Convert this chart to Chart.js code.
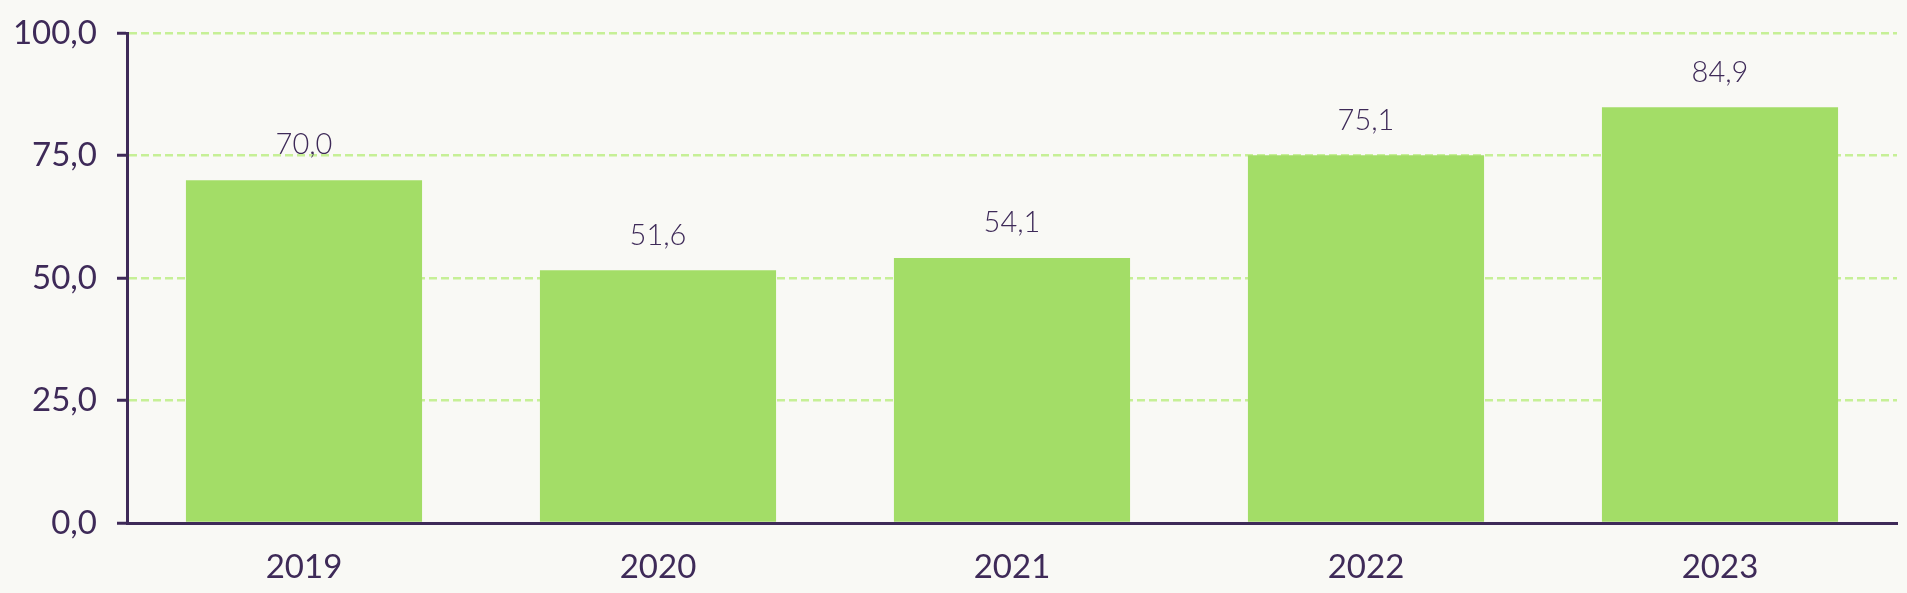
<!DOCTYPE html>
<html>
<head>
<meta charset="utf-8">
<script src="https://cdn.jsdelivr.net/npm/chart.js@4/dist/chart.umd.min.js"></script>
<style>
  html, body { margin: 0; padding: 0; background: #f9f9f5; }
  #wrap { width: 1907px; height: 593px; }
</style>
</head>
<body>
<div id="wrap"><canvas id="chart"></canvas></div>
<script>
const years = ['2019', '2020', '2021', '2022', '2023'];
const values = [70.0, 51.6, 54.1, 75.1, 84.9];
const yTicks = [0, 25, 50, 75, 100];

const dark = '#3e2a58';
const green = '#a3dd67';
const gridGreen = '#c6f096';

const fmt = v => v.toFixed(1).replace('.', ',');

// draws the value above each bar
const valueLabels = {
    id: 'valueLabels',
    afterDatasetsDraw(chart) {
        const ctx = chart.ctx;
        const meta = chart.getDatasetMeta(0);
        ctx.save();
        ctx.font = '300 29px Lato';
        ctx.fillStyle = dark;
        ctx.textAlign = 'center';
        ctx.textBaseline = 'middle';
        meta.data.forEach((bar, i) => {
            ctx.fillText(fmt(values[i]), bar.x, bar.y - 35);
        });
        ctx.restore();
    }
};

const ctx = document.getElementById('chart').getContext('2d');
new Chart(ctx, {
    type: 'bar',
    data: {
        labels: years,
        datasets: [{
            data: values,
            backgroundColor: green,
            categoryPercentage: 0.667,
            barPercentage: 1.0
        }]
    },
    options: {
        responsive: true,
        maintainAspectRatio: false,
        animation: false,
        layout: { padding: { top: 33, right: 10, left: 0, bottom: 0 } },
        plugins: {
            legend: { display: false },
            tooltip: { enabled: false }
        },
        scales: {
            x: {
                grid: { display: false, drawTicks: false },
                border: { color: dark, width: 3 },
                ticks: {
                    color: dark,
                    padding: 25,
                    font: { family: 'Lato', size: 33 }
                },
                afterFit(scale) { scale.height = 70; }
            },
            y: {
                min: 0,
                max: 100,
                afterBuildTicks(scale) {
                    scale.ticks = yTicks.map(v => ({ value: v }));
                },
                grid: {
                    color: gridGreen,
                    lineWidth: 2.5,
                    tickLength: 10,
                    tickColor: dark,
                    tickWidth: 3
                },
                border: { color: dark, width: 3, dash: [8, 4] },
                ticks: {
                    color: dark,
                    padding: 20,
                    font: { family: 'Lato', size: 33, lineHeight: 0.8 },
                    callback: v => fmt(v)
                },
                afterFit(scale) { scale.width = 127; }
            }
        }
    },
    plugins: [valueLabels]
});
</script>
</body>
</html>
